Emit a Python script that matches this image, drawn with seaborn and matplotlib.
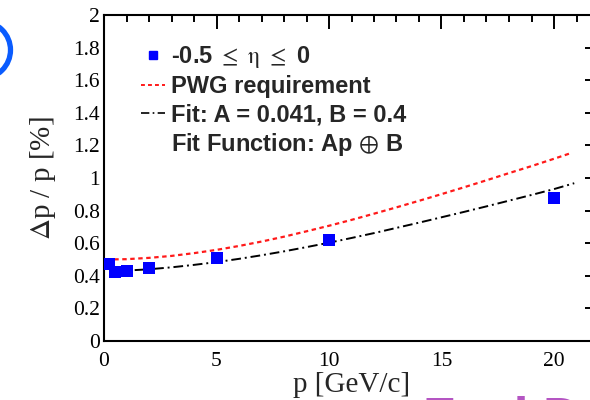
import numpy as np
import pandas as pd
import matplotlib
matplotlib.use('Agg')
import matplotlib.pyplot as plt
from matplotlib.lines import Line2D
from matplotlib.patches import Ellipse
from matplotlib.ticker import MultipleLocator
import seaborn as sns

p_points = [0.2, 0.5, 1, 2, 5, 10, 20]
res_points = [0.47, 0.423, 0.43, 0.447, 0.507, 0.62, 0.875]

# кривая требования PWG
p_pwg = [0.1, 1, 2, 3, 4, 5, 6, 7, 8, 9, 10, 11, 12, 13, 14, 15, 16, 17, 18, 19, 20, 20.8]
res_pwg = [0.500, 0.502, 0.510, 0.522, 0.539, 0.559, 0.583, 0.610, 0.640, 0.673, 0.707,
           0.743, 0.781, 0.820, 0.860, 0.901, 0.943, 0.986, 1.030, 1.073, 1.118, 1.155]

# кривая фита
p_fit = [0.5, 1, 2, 3, 4, 5, 6, 7, 8, 9, 10, 11, 12, 13, 14, 15, 16, 17, 18, 19, 20, 20.9]
res_fit = [0.430, 0.432, 0.440, 0.452, 0.467, 0.484, 0.504, 0.526, 0.550, 0.576, 0.603,
           0.632, 0.662, 0.694, 0.726, 0.759, 0.792, 0.826, 0.861, 0.896, 0.932, 0.968]

legend_labels = [r'-0.5 $\leq$ $\mathrm{\eta}$ $\leq$ 0', 'PWG requirement',
                 'Fit: A = 0.041, B = 0.4', r'Fit Function: Ap $\oplus$ B']

sns.set_style('white')
plt.rcParams['font.family'] = ['Liberation Serif', 'DejaVu Serif']
plt.rcParams['mathtext.fontset'] = 'stix'

fig = plt.figure(figsize=(5.9, 4.0), dpi=100)
ax = fig.add_axes([104 / 590, 59 / 400, 495 / 590, 326 / 400])

df_pts = pd.DataFrame({'p': p_points, 'res': res_points})
df_pwg = pd.DataFrame({'p': p_pwg, 'res': res_pwg})
df_fit = pd.DataFrame({'p': p_fit, 'res': res_fit})

sns.lineplot(data=df_pwg, x='p', y='res', ax=ax, color='#ff1a1a', lw=1.6,
             linestyle=(0, (2, 1.6)), sort=False, zorder=2)
sns.lineplot(data=df_fit, x='p', y='res', ax=ax, color='black', lw=1.4,
             linestyle=(0, (5, 2, 1, 2)), sort=False, zorder=2)
sns.scatterplot(data=df_pts, x='p', y='res', ax=ax, marker='s', s=64,
                color='#0000ff', edgecolor='#0000ff', linewidth=0, zorder=3)

ax.set_xlim(0, 22)
ax.set_ylim(0, 2)
ax.xaxis.set_major_locator(MultipleLocator(5))
ax.xaxis.set_minor_locator(MultipleLocator(1))
ax.yaxis.set_major_locator(MultipleLocator(0.2))
ax.yaxis.set_minor_locator(MultipleLocator(0.05))
ax.yaxis.set_major_formatter(plt.FuncFormatter(lambda v, _: f'{v:g}'))

ax.tick_params(which='both', direction='in', top=True, right=True, width=1.4,
               colors='black', labelsize=15.5)
ax.tick_params(which='major', length=10)
ax.tick_params(which='minor', length=5)
ax.tick_params(axis='x', pad=8)
ax.tick_params(axis='y', pad=3)
for s in ax.spines.values():
    s.set_linewidth(1.5)
    s.set_color('black')

ax.set_xlabel('p [GeV/c]', fontsize=21, labelpad=1)
ax.set_ylabel(r'$\Delta$p / p [%]', fontsize=21, labelpad=11)

handles = [
    Line2D([], [], marker='s', color='#0000ff', linestyle='none', markersize=6),
    Line2D([], [], color='#ff1a1a', lw=1.4, linestyle=(0, (2, 1.6))),
    Line2D([], [], color='black', lw=1.2, linestyle=(0, (5, 2, 1, 2))),
    Line2D([], [], color='none'),
]
leg = ax.legend(handles, legend_labels, loc='upper left', bbox_to_anchor=(0.075, 0.91),
                frameon=False, handlelength=1.0, handletextpad=0.25, labelspacing=0.21,
                borderpad=0, borderaxespad=0,
                prop={'family': 'Liberation Sans', 'weight': 'bold', 'size': 17})

# элементы слайда вокруг графика
fig.add_artist(Ellipse((-18 / 590, 1 - 50 / 400), 2 * 28.5 / 590, 2 * 28.5 / 400,
                       transform=fig.transFigure, fill=False, edgecolor='#0a5cff', lw=3.8))
fig.text(423 / 590, 4.5 / 400, 'Fwd DC', color='#b455c3', fontsize=38, fontweight='bold',
         family='Liberation Sans', va='top', ha='left')

fig.savefig('out.png', dpi=100)
